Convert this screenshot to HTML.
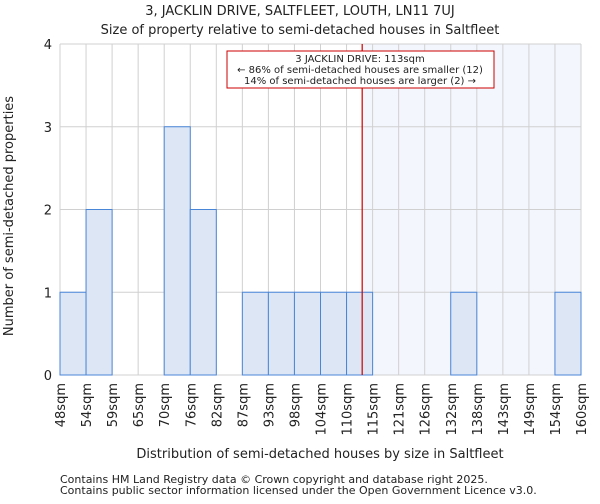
<!DOCTYPE html>
<html><head><meta charset="utf-8"><style>
body{margin:0;background:#fff;font-family:"DejaVu Sans","Liberation Sans",sans-serif}
svg text{font-family:"DejaVu Sans","Liberation Sans",sans-serif;fill:#222}
</style></head><body>
<svg id="c" width="600" height="500"></svg>
<script>
const binLabels=["48sqm","54sqm","59sqm","65sqm","70sqm","76sqm","82sqm","87sqm","93sqm","98sqm","104sqm","110sqm","115sqm","121sqm","126sqm","132sqm","138sqm","143sqm","149sqm","154sqm","160sqm"];
const counts=[1,2,0,0,3,2,0,1,1,1,1,1,0,0,0,1,0,0,0,1];
const yTicks=[0,1,2,3,4];
const markerBin=11.6;
const NS="http://www.w3.org/2000/svg";
const svg=document.getElementById('c');
const L=60,R=581,T=44,B=375,bw=(R-L)/counts.length;
const x=i=>L+i*bw, y=v=>B-(v/4)*(B-T);
function el(t,a,p){const e=document.createElementNS(NS,t);for(const k in a)e.setAttribute(k,a[k]);(p||svg).appendChild(e);return e;}
let e=el('rect',{x:L,y:T,width:R-L,height:B-T,fill:'#fff'});

e=el('rect',{x:x(markerBin),y:T,width:R-x(markerBin),height:B-T,fill:'#f3f6fd'});

binLabels.forEach((l,i)=>{const g=el('line',{x1:x(i),x2:x(i),y1:T,y2:B,stroke:'#d0d0d0','stroke-width':1});
});
yTicks.forEach(v=>{const g=el('line',{x1:L,x2:R,y1:y(v),y2:y(v),stroke:'#d0d0d0','stroke-width':1});

const t=el('text',{x:L-8,y:y(v)+5,'text-anchor':'end','font-size':13});t.textContent=v;
});
counts.forEach((c,i)=>{if(!c)return;const b=el('rect',{x:x(i),y:y(c),width:bw,height:B-y(c),fill:'#dce6f5',stroke:'#4a86d8','stroke-width':1});
});
binLabels.forEach((l,i)=>{const t=el('text',{transform:`translate(${x(i)+5},${B+8}) rotate(-90)`,'text-anchor':'end','font-size':13});t.textContent=l;
});
e=el('line',{x1:x(markerBin),x2:x(markerBin),y1:T,y2:B,stroke:'#cc0000','stroke-width':1.2});

e=el('rect',{x:227,y:51,width:267,height:37,fill:'#fff',stroke:'#cc0000','stroke-width':1});

[["3 JACKLIN DRIVE: 113sqm",62],["← 86% of semi-detached houses are smaller (12)",73],["14% of semi-detached houses are larger (2) →",84]].forEach(([s,yy])=>{
const t=el('text',{x:360,y:yy,'text-anchor':'middle','font-size':10});t.textContent=s;
});
e=el('text',{x:300,y:15,'text-anchor':'middle','font-size':13});e.textContent="3, JACKLIN DRIVE, SALTFLEET, LOUTH, LN11 7UJ";

e=el('text',{x:300,y:34,'text-anchor':'middle','font-size':13});e.textContent="Size of property relative to semi-detached houses in Saltfleet";

e=el('text',{transform:'translate(13,216) rotate(-90)','text-anchor':'middle','font-size':13});e.textContent="Number of semi-detached properties";

e=el('text',{x:320,y:458,'text-anchor':'middle','font-size':13});e.textContent="Distribution of semi-detached houses by size in Saltfleet";

e=el('text',{x:60,y:483,'font-size':11});e.textContent="Contains HM Land Registry data © Crown copyright and database right 2025.";

e=el('text',{x:60,y:494,'font-size':11});e.textContent="Contains public sector information licensed under the Open Government Licence v3.0.";

</script>
</body></html>
